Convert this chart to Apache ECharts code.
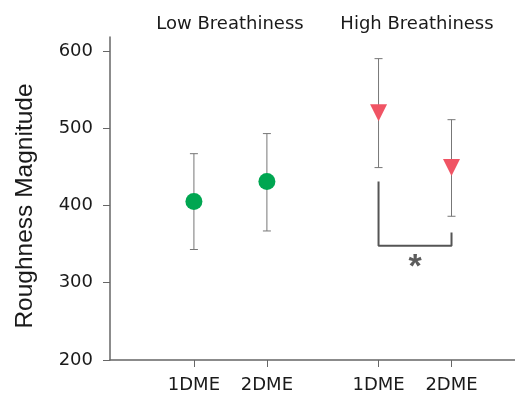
<!DOCTYPE html>
<html>
<head>
<meta charset="utf-8">
<script src="https://cdn.jsdelivr.net/npm/echarts@6/dist/echarts.min.js"></script>
<style>
  html, body { margin: 0; padding: 0; background: #fff; }
  #main { width: 515px; height: 394px; }
</style>
</head>
<body>
<div id="main"></div>
<script>
// x positions of the four conditions on a plain value axis
var xPos = [1.15, 2.15, 3.68, 4.68];
var xLabels = ['1DME', '2DME', '1DME', '2DME'];
var yTicks = [200, 300, 400, 500, 600];

// Low Breathiness (green circles)
var lowMean = [405, 431];
var lowUpper = [467, 493];
var lowLower = [343, 367];

// High Breathiness (red triangles)
var highMean = [520, 449];
var highUpper = [590, 511];
var highLower = [449, 386];

// significance bracket between the two High conditions
var bracketX = [3.68, 3.68, 4.68, 4.68];
var bracketY = [431, 348, 348, 365];
var starPoint = [4.18, 320];

var FONT = 'DejaVu Sans';

var myChart = echarts.init(document.getElementById('main'));

function pairs(xs, ys) {
    return ys.map(function (v, i) { return [xs[i], v]; });
}

var errData = [];
lowMean.forEach(function (m, i) { errData.push([xPos[i], lowLower[i], lowUpper[i]]); });
highMean.forEach(function (m, i) { errData.push([xPos[i + 2], highLower[i], highUpper[i]]); });

var option = {
    animation: false,
    grid: { left: 110, right: 0, top: 37, bottom: 34 },
    xAxis: {
        type: 'value',
        min: 0,
        max: 5.55,
        splitLine: { show: false },
        axisLine: { lineStyle: { color: '#666', width: 1.5 } },
        axisTick: { customValues: xPos, length: 7, lineStyle: { color: '#666' } },
        axisLabel: {
            customValues: xPos,
            margin: 16,
            color: '#1a1a1a',
            fontFamily: FONT,
            fontSize: 18,
            formatter: function (v) {
                var best = 0;
                for (var i = 1; i < xPos.length; i++) {
                    if (Math.abs(xPos[i] - v) < Math.abs(xPos[best] - v)) best = i;
                }
                return xLabels[best];
            }
        }
    },
    yAxis: {
        type: 'value',
        min: 200,
        max: 618,
        splitLine: { show: false },
        axisLine: { show: true, lineStyle: { color: '#666', width: 1.5 } },
        axisTick: { show: true, customValues: yTicks, length: 7, lineStyle: { color: '#666' } },
        axisLabel: { customValues: yTicks, margin: 17, color: '#1a1a1a', fontFamily: FONT, fontSize: 18 }
    },
    graphic: [
        { type: 'text', x: 230, y: 24, style: { text: 'Low Breathiness', font: '18px "DejaVu Sans"', fill: '#1a1a1a', textAlign: 'center', textVerticalAlign: 'middle' } },
        { type: 'text', x: 417, y: 24, style: { text: 'High Breathiness', font: '18px "DejaVu Sans"', fill: '#1a1a1a', textAlign: 'center', textVerticalAlign: 'middle' } },
        { type: 'text', x: 25, y: 206, rotation: Math.PI / 2, style: { text: 'Roughness Magnitude', font: '24.5px "Liberation Sans"', fill: '#1a1a1a', textAlign: 'center', textVerticalAlign: 'middle' } }
    ],
    series: [
        {
            type: 'custom',
            z: 1,
            data: errData,
            renderItem: function (params, api) {
                var x = api.value(0);
                var top = api.coord([x, api.value(2)]);
                var bot = api.coord([x, api.value(1)]);
                var hw = 4;
                var st = { stroke: '#777', lineWidth: 1 };
                return {
                    type: 'group',
                    children: [
                        { type: 'line', shape: { x1: top[0], y1: top[1], x2: bot[0], y2: bot[1] }, style: st },
                        { type: 'line', shape: { x1: top[0] - hw, y1: top[1], x2: top[0] + hw, y2: top[1] }, style: st },
                        { type: 'line', shape: { x1: bot[0] - hw, y1: bot[1], x2: bot[0] + hw, y2: bot[1] }, style: st }
                    ]
                };
            }
        },
        {
            type: 'scatter',
            z: 3,
            symbol: 'circle',
            symbolSize: 17,
            itemStyle: { color: '#00a651', opacity: 1 },
            data: pairs(xPos.slice(0, 2), lowMean)
        },
        {
            type: 'scatter',
            z: 3,
            symbol: 'triangle',
            symbolRotate: 180,
            symbolSize: 17,
            itemStyle: { color: '#f05464', opacity: 1 },
            data: pairs(xPos.slice(2), highMean)
        },
        {
            type: 'line',
            z: 2,
            symbol: 'none',
            lineStyle: { color: '#555', width: 2 },
            data: pairs(bracketX, bracketY)
        },
        {
            type: 'scatter',
            z: 2,
            symbolSize: 1,
            itemStyle: { color: 'rgba(0,0,0,0)' },
            label: {
                show: true,
                position: 'inside',
                formatter: '*',
                color: '#333',
                fontFamily: 'Liberation Sans',
                fontWeight: 'bold',
                fontSize: 34
            },
            data: [starPoint]
        }
    ]
};

myChart.setOption(option);
</script>
</body>
</html>
